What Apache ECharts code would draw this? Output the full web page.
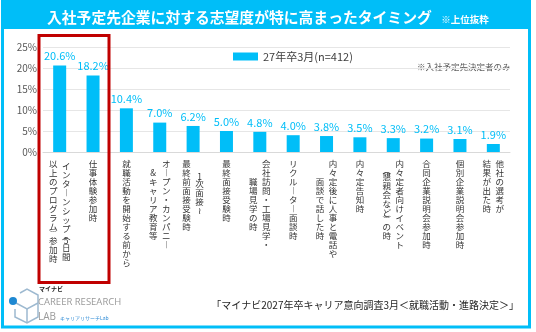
<!DOCTYPE html>
<html><head><meta charset="utf-8">
<script src="https://cdn.jsdelivr.net/npm/echarts@6/dist/echarts.min.js"></script>
<style>html,body{margin:0;padding:0;background:#fff}#c{width:536px;height:332px}</style>
</head><body><div id="c"></div>
<script>
// ---- data ----
// each category: columns separated by "\n" (first column is drawn on the right, vertical writing)
const categories = [
  "インターンシップ(5日間\n以上のプログラム)参加時",
  "仕事体験参加時",
  "就職活動を開始する前から",
  "オープン・カンパニー\n&キャリア教育等",
  "1次面接〜\n最終前面接受験時",
  "最終面接受験時",
  "会社訪問・工場見学・\n職場見学の時",
  "リクルーター面談時",
  "内々定後に人事と電話や\n面談で話した時",
  "内々定告知時",
  "内々定者向けイベント\n(懇親会など)の時",
  "合同企業説明会参加時",
  "個別企業説明会参加時",
  "他社の選考が\n結果が出た時"
];
const values = [20.6, 18.2, 10.4, 7.0, 6.2, 5.0, 4.8, 4.0, 3.8, 3.5, 3.3, 3.2, 3.1, 1.9];
const seriesName = "27年卒3月(n=412)";
const highlightCount = 2;
const yMin = 0, yMax = 25, yStep = 5;
const titleText = "入社予定先企業に対する志望度が特に高まったタイミング";
const titleNote = "※上位抜粋";
const noteText = "※入社予定先決定者のみ";
const sourceText = "「マイナビ2027年卒キャリア意向調査3月＜就職活動・進路決定＞」";

// ---- styling ----
const BLUE = '#00BEF8';
const RED = '#E8332A';
const FONT = '"Noto Sans CJK JP", "Noto Sans", sans-serif';
const LH_F = 9, LH_H = 5, FS = 8.5;
const LABEL_COLOR = '#333333';
const VMAP = {'ー':'︱','(':'︵',')':'︶','〜':'≀','～':'≀'};
const HALF = /[0-9()]/;
const SHIFT = {C:[0,0,0,0], R:[0,0,0,13], L:[0,13,0,0]};

function colH(col){ let h=0; for (const ch of col) h += HALF.test(ch)?LH_H:LH_F; return h; }
const rich = {};
for (const k in SHIFT){
  rich['f'+k] = {fontSize:FS, lineHeight:LH_F, fontFamily:FONT, color:LABEL_COLOR, padding:SHIFT[k], align:'center'};
  rich['h'+k] = {fontSize:FS, lineHeight:LH_H, fontFamily:FONT, color:LABEL_COLOR, padding:SHIFT[k], align:'center'};
}
function spacerKey(off){ const key='s'+Math.round(off*10); if(!rich[key]) rich[key]={fontSize:1,lineHeight:off,color:'rgba(0,0,0,0)'}; return key; }
function makeFormatter(k){
  return function(value){
    const cols = value.split('\n');
    if (k >= cols.length) return '';
    const col = cols[k];
    const shift = cols.length === 1 ? 'C' : (k === 0 ? 'R' : 'L');
    const maxH = Math.max(...cols.map(colH));
    const off = (maxH - colH(col)) / 2;
    const lines = [];
    if (off > 0.1) lines.push('{' + spacerKey(off) + '| }');
    for (const ch of col){
      const g = VMAP[ch] || ch;
      lines.push('{' + (HALF.test(ch)?'h':'f') + shift + '|' + g + '}');
    }
    return lines.join('\n');
  };
}
categories.forEach(v=>{ const cols=v.split('\n'); const m=Math.max(...cols.map(colH)); cols.forEach(c=>{const o=(m-colH(c))/2; if(o>0.1) spacerKey(o);}); });

const chart = echarts.init(document.getElementById('c'), null, {renderer:'canvas'});
const xBase = {
  type:'category', data:categories, gridIndex:0, position:'bottom',
  axisTick:{show:false},
  axisLabel:{interval:0, margin:7, rich:rich, fontFamily:FONT, fontSize:FS, color:LABEL_COLOR}
};
chart.setOption({
  animation:false,
  textStyle:{fontFamily:FONT},
  title:{
    text:'{m|'+titleText+'}{s|　'+titleNote+'}', left:42, top:5,
    textStyle:{rich:{
      m:{fontSize:14.8, color:'#fff', fontWeight:'bold', fontFamily:FONT},
      s:{fontSize:9.5, color:'#fff', fontFamily:FONT, padding:[3,0,0,0]}
    }}
  },
  legend:{
    data:[seriesName], left:228, top:46, icon:'rect', itemWidth:25, itemHeight:8,
    textStyle:{fontSize:11, color:'#404040', fontFamily:FONT}
  },
  grid:{left:43, right:26, top:47, bottom:180, containLabel:false},
  xAxis:[
    Object.assign({}, xBase, {axisLine:{show:true, lineStyle:{color:'#D9D9D9'}}, axisLabel:Object.assign({}, xBase.axisLabel, {formatter:makeFormatter(0)})}),
    Object.assign({}, xBase, {axisLine:{show:false}, axisLabel:Object.assign({}, xBase.axisLabel, {formatter:makeFormatter(1)})})
  ],
  yAxis:{
    type:'value', min:yMin, max:yMax, interval:yStep,
    axisLine:{show:false}, axisTick:{show:false},
    splitLine:{lineStyle:{color:'#E6E6E6'}},
    axisLabel:{formatter:'{value}%', fontSize:10, color:'#595959', margin:6, fontFamily:FONT}
  },
  series:[{
    name:seriesName, type:'bar', xAxisIndex:0, barWidth:13,
    itemStyle:{color:BLUE},
    data:values,
    label:{show:true, position:'top', distance:4, fontSize:11, fontFamily:FONT,
      formatter:p=>p.value.toFixed(1)+'%',
      color:p=>p.dataIndex<highlightCount?RED:'#404040'}
  }],
  graphic:[
    {type:'rect', z:-1, shape:{x:1, y:0, width:530, height:29}, style:{fill:BLUE}},
    {type:'rect', z:10, shape:{x:2.5, y:1, width:527, height:326}, style:{fill:null, stroke:BLUE, lineWidth:3}},
    {type:'rect', z:10, shape:{x:39, y:35.5, width:70, height:247}, style:{fill:null, stroke:'#C00000', lineWidth:3}},
    {type:'text', left:417, top:63, style:{text:noteText, fontSize:8.5, fill:'#595959', fontFamily:FONT}},
    {type:'text', right:17, top:300, style:{text:sourceText, fontSize:10, fill:'#262626', fontFamily:FONT}},
    // logo
    {type:'polyline', shape:{points:[[20,293],[27,289],[38,295],[38,317],[27,323],[15,317],[15,309]]}, style:{stroke:'#9DB9D0', lineWidth:1.5, fill:null}},
    {type:'polyline', shape:{points:[[16,303],[27,309],[38,303]]}, style:{stroke:'#9DB9D0', lineWidth:1.5, fill:null}},
    {type:'line', shape:{x1:27, y1:309, x2:27, y2:322}, style:{stroke:'#9DB9D0', lineWidth:1.5}},
    {type:'circle', shape:{cx:13, cy:301, r:4}, style:{fill:'#1E88D2'}},
    {type:'text', left:39, top:286, style:{text:'マイナビ', fontSize:6, fontWeight:'bold', fill:'#222', fontFamily:FONT}},
    {type:'text', left:38, top:297, style:{text:'CAREER RESEARCH', fontSize:9.5, fill:'#9A9A9A', fontFamily:'"Liberation Sans Narrow", "Open Sans", sans-serif'}},
    {type:'text', left:38, top:312, style:{text:'LAB', fontSize:10, fill:'#9A9A9A', fontFamily:'"Liberation Sans Narrow", "Open Sans", sans-serif'}},
    {type:'text', left:60, top:316, style:{text:'キャリアリサーチLab', fontSize:5, fill:'#2E8BD6', fontFamily:FONT}}
  ]
});
</script></body></html>
